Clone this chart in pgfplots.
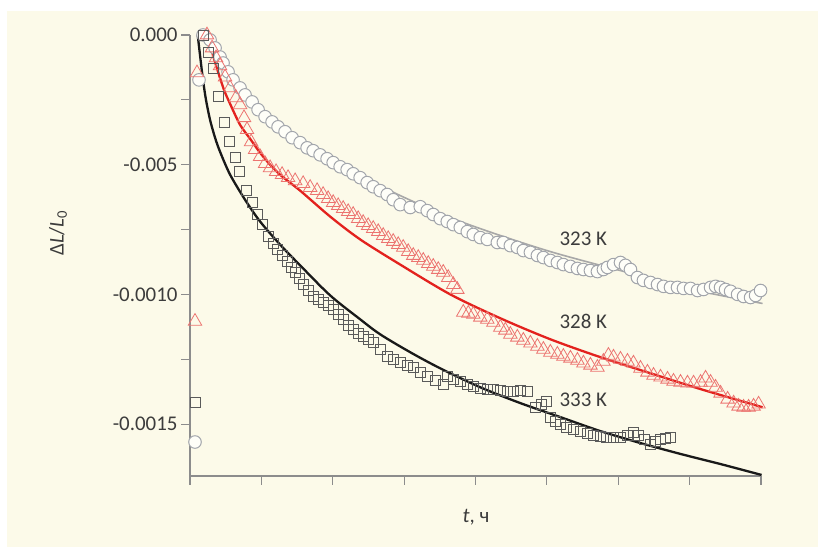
\documentclass[border=0pt]{standalone}
\usepackage{pgfplots}
\pgfplotsset{compat=1.18}
\usepackage{fontspec}
\setmainfont{Carlito}
\definecolor{cream}{HTML}{FCFAE9}
\definecolor{txt}{HTML}{3C3C3C}
\definecolor{axgray}{HTML}{8C8C8C}
\definecolor{circ}{HTML}{A2A5AB}
\definecolor{sq}{HTML}{5A5A5A}
\definecolor{tri}{HTML}{EC7470}
\definecolor{fitred}{HTML}{E3221E}
\definecolor{fitgray}{HTML}{A8A8A8}
\begin{document}
\begin{tikzpicture}[x=1bp,y=1bp]
\useasboundingbox (0,0) rectangle (818,547);
\fill[white] (0,0) rectangle (818,547);
\fill[cream] (7,0) rectangle (818,536);
\begin{axis}[
 at={(190bp,71bp)}, anchor=south west, scale only axis, width=571bp, height=441bp,
 xmin=0, xmax=8, ymin=-0.0017, ymax=0,
 axis x line*=bottom, axis y line*=left,
 axis line style={axgray, line width=1.2bp},
 xtick={0,1,2,3,4,5,6,7,8}, xticklabels={},
 ytick={0,-0.00025,-0.0005,-0.00075,-0.001,-0.00125,-0.0015},
 yticklabels={0.000,,-0.005,,-0.0010,,-0.0015},
 scaled y ticks=false,
 tick align=outside, major tick length=9bp,
 tick style={axgray, line width=1.2bp},
 yticklabel style={font=\fontsize{21}{24}\selectfont, text=txt},
 clip=false,
]
% 323 K fit
\addplot[fitgray, line width=1.6bp, smooth] coordinates {
(0.182,0) (0.351,-0.0577e-3) (0.561,-0.142e-3) (0.842,-0.238e-3) (1.122,-0.319e-3)
(1.543,-0.404e-3) (1.964,-0.477e-3) (2.384,-0.542e-3) (2.945,-0.619e-3) (3.647,-0.704e-3)
(4.348,-0.773e-3) (5.049,-0.835e-3) (5.750,-0.888e-3) (6.452,-0.938e-3) (7.153,-0.988e-3) (8.022,-1.035e-3)};
% 323 K data
\addplot[only marks, mark=*, mark size=6.3bp, mark options={draw=circ, fill=white!70!cream, line width=1bp}] coordinates {
(0.126,-0.173e-3) (0.070,-1.569e-3)
(0.182,0) (0.281,-0.019e-3) (0.351,-0.050e-3) (0.421,-0.085e-3) (0.463,-0.108e-3) (0.533,-0.142e-3) (0.603,-0.173e-3) (0.701,-0.204e-3) (0.771,-0.231e-3) (0.870,-0.258e-3) (0.954,-0.288e-3) (1.052,-0.315e-3) (1.150,-0.335e-3) (1.234,-0.354e-3) (1.332,-0.373e-3) (1.431,-0.396e-3) (1.543,-0.415e-3) (1.641,-0.435e-3) (1.725,-0.446e-3) (1.823,-0.462e-3) (1.921,-0.477e-3) (2.006,-0.492e-3) (2.104,-0.508e-3) (2.202,-0.519e-3) (2.286,-0.535e-3) (2.384,-0.550e-3) (2.482,-0.569e-3) (2.567,-0.585e-3) (2.665,-0.600e-3) (2.763,-0.615e-3) (2.847,-0.635e-3) (2.945,-0.654e-3) (3.086,-0.665e-3) (3.226,-0.662e-3) (3.324,-0.677e-3) (3.408,-0.692e-3) (3.506,-0.708e-3) (3.604,-0.719e-3) (3.689,-0.731e-3) (3.787,-0.742e-3) (3.885,-0.758e-3) (3.969,-0.769e-3) (4.067,-0.781e-3) (4.165,-0.788e-3) (4.306,-0.800e-3) (4.390,-0.800e-3) (4.488,-0.812e-3) (4.586,-0.819e-3) (4.670,-0.831e-3) (4.769,-0.838e-3) (4.867,-0.850e-3) (4.951,-0.858e-3) (5.049,-0.869e-3) (5.147,-0.877e-3) (5.231,-0.885e-3) (5.330,-0.892e-3) (5.428,-0.900e-3) (5.512,-0.904e-3) (5.610,-0.908e-3) (5.708,-0.912e-3) (5.792,-0.904e-3) (5.848,-0.896e-3) (5.933,-0.885e-3) (6.031,-0.877e-3) (6.101,-0.888e-3) (6.171,-0.904e-3) (6.269,-0.935e-3) (6.353,-0.946e-3) (6.452,-0.954e-3) (6.550,-0.962e-3) (6.634,-0.969e-3) (6.732,-0.973e-3) (6.830,-0.973e-3) (6.914,-0.977e-3) (7.013,-0.977e-3) (7.111,-0.985e-3) (7.195,-0.981e-3) (7.293,-0.973e-3) (7.363,-0.969e-3) (7.433,-0.973e-3) (7.503,-0.981e-3) (7.574,-0.988e-3) (7.672,-1.000e-3) (7.756,-1.008e-3) (7.854,-1.012e-3) (7.924,-1.004e-3) (7.994,-0.985e-3)};
% 328 K data
\addplot[only marks, mark=triangle, mark size=7.8bp, mark options={draw=tri, line width=0.8bp}] coordinates {
(0.098,-0.146e-3) (0.070,-1.104e-3)
(0.238,0) (0.309,-0.050e-3) (0.365,-0.088e-3) (0.421,-0.119e-3) (0.491,-0.162e-3) (0.561,-0.204e-3) (0.645,-0.242e-3) (0.701,-0.269e-3) (0.757,-0.319e-3) (0.799,-0.365e-3) (0.856,-0.412e-3) (0.912,-0.442e-3) (0.982,-0.469e-3) (1.052,-0.496e-3) (1.122,-0.512e-3) (1.206,-0.527e-3) (1.290,-0.538e-3) (1.374,-0.550e-3) (1.473,-0.562e-3) (1.585,-0.573e-3) (1.683,-0.588e-3) (1.781,-0.600e-3) (1.865,-0.615e-3) (1.935,-0.631e-3) (2.006,-0.646e-3) (2.076,-0.658e-3) (2.146,-0.669e-3) (2.216,-0.681e-3) (2.286,-0.692e-3) (2.356,-0.708e-3) (2.426,-0.723e-3) (2.496,-0.735e-3) (2.567,-0.746e-3) (2.637,-0.758e-3) (2.707,-0.773e-3) (2.777,-0.785e-3) (2.847,-0.796e-3) (2.917,-0.808e-3) (2.987,-0.819e-3) (3.057,-0.835e-3) (3.128,-0.850e-3) (3.198,-0.858e-3) (3.268,-0.869e-3) (3.338,-0.881e-3) (3.408,-0.892e-3) (3.478,-0.904e-3) (3.548,-0.915e-3) (3.618,-0.935e-3) (3.689,-0.962e-3) (3.745,-0.981e-3) (3.829,-1.069e-3) (3.899,-1.073e-3) (3.969,-1.077e-3) (4.067,-1.088e-3) (4.165,-1.096e-3) (4.250,-1.108e-3) (4.348,-1.127e-3) (4.418,-1.138e-3) (4.488,-1.154e-3) (4.586,-1.165e-3) (4.670,-1.177e-3) (4.769,-1.188e-3) (4.867,-1.200e-3) (4.951,-1.212e-3) (5.049,-1.223e-3) (5.147,-1.231e-3) (5.231,-1.239e-3) (5.330,-1.246e-3) (5.428,-1.254e-3) (5.512,-1.265e-3) (5.610,-1.273e-3) (5.708,-1.281e-3) (5.792,-1.258e-3) (5.862,-1.235e-3) (5.933,-1.242e-3) (6.031,-1.250e-3) (6.129,-1.258e-3) (6.213,-1.265e-3) (6.311,-1.285e-3) (6.409,-1.300e-3) (6.494,-1.312e-3) (6.592,-1.319e-3) (6.690,-1.327e-3) (6.774,-1.335e-3) (6.872,-1.339e-3) (6.970,-1.342e-3) (7.055,-1.342e-3) (7.153,-1.339e-3) (7.223,-1.323e-3) (7.293,-1.339e-3) (7.363,-1.358e-3) (7.433,-1.381e-3) (7.532,-1.404e-3) (7.616,-1.419e-3) (7.686,-1.431e-3) (7.756,-1.435e-3) (7.826,-1.435e-3) (7.896,-1.431e-3) (7.966,-1.423e-3)};
% 333 K data
\addplot[only marks, mark=square, mark size=5bp, mark options={draw=sq, line width=0.8bp}] coordinates {
(0.070,-1.415e-3)
(0.182,0) (0.252,-0.069e-3) (0.323,-0.127e-3) (0.393,-0.238e-3) (0.477,-0.338e-3) (0.547,-0.412e-3) (0.631,-0.473e-3) (0.687,-0.527e-3) (0.785,-0.600e-3) (0.870,-0.646e-3) (0.940,-0.692e-3) (1.010,-0.731e-3) (1.094,-0.777e-3) (1.164,-0.804e-3) (1.220,-0.827e-3) (1.290,-0.850e-3) (1.360,-0.873e-3) (1.417,-0.896e-3) (1.473,-0.915e-3) (1.529,-0.938e-3) (1.585,-0.962e-3) (1.655,-0.985e-3) (1.725,-1.008e-3) (1.795,-1.019e-3) (1.865,-1.031e-3) (1.935,-1.042e-3) (2.006,-1.058e-3) (2.076,-1.077e-3) (2.146,-1.096e-3) (2.216,-1.119e-3) (2.286,-1.135e-3) (2.356,-1.150e-3) (2.426,-1.162e-3) (2.496,-1.173e-3) (2.567,-1.185e-3) (2.665,-1.212e-3) (2.763,-1.239e-3) (2.847,-1.250e-3) (2.945,-1.262e-3) (3.043,-1.273e-3) (3.128,-1.281e-3) (3.226,-1.300e-3) (3.324,-1.315e-3) (3.436,-1.331e-3) (3.548,-1.346e-3) (3.604,-1.315e-3) (3.689,-1.327e-3) (3.787,-1.335e-3) (3.885,-1.346e-3) (3.969,-1.354e-3) (4.067,-1.362e-3) (4.165,-1.365e-3) (4.250,-1.365e-3) (4.348,-1.369e-3) (4.446,-1.373e-3) (4.530,-1.373e-3) (4.628,-1.369e-3) (4.726,-1.373e-3) (4.838,-1.435e-3) (4.923,-1.423e-3) (4.993,-1.412e-3) (5.049,-1.473e-3) (5.119,-1.488e-3) (5.189,-1.500e-3) (5.273,-1.512e-3) (5.372,-1.519e-3) (5.470,-1.527e-3) (5.568,-1.535e-3) (5.652,-1.542e-3) (5.750,-1.546e-3) (5.834,-1.550e-3) (5.933,-1.550e-3) (6.031,-1.550e-3) (6.129,-1.542e-3) (6.213,-1.531e-3) (6.283,-1.542e-3) (6.367,-1.558e-3) (6.452,-1.577e-3) (6.522,-1.565e-3) (6.592,-1.558e-3) (6.662,-1.554e-3) (6.732,-1.550e-3)};
% 328 K fit
\addplot[fitred, line width=2.3bp, smooth] coordinates {
(0.252,0) (0.309,-0.0654e-3) (0.393,-0.142e-3) (0.477,-0.212e-3) (0.561,-0.265e-3) (0.701,-0.346e-3)
(0.842,-0.400e-3) (0.982,-0.454e-3) (1.122,-0.500e-3) (1.276,-0.542e-3) (1.543,-0.600e-3) (1.964,-0.700e-3)
(2.384,-0.788e-3) (2.945,-0.885e-3) (3.647,-1.000e-3) (4.348,-1.092e-3) (5.049,-1.173e-3) (5.750,-1.242e-3)
(6.452,-1.304e-3) (7.153,-1.365e-3) (8.022,-1.435e-3)};
% 333 K fit
\addplot[black!90, line width=2.3bp, smooth] coordinates {
(0.108,0) (0.140,-0.0769e-3) (0.182,-0.173e-3) (0.224,-0.250e-3) (0.281,-0.327e-3) (0.351,-0.396e-3)
(0.421,-0.450e-3) (0.561,-0.538e-3) (0.771,-0.635e-3) (0.982,-0.719e-3) (1.262,-0.808e-3) (1.543,-0.888e-3)
(1.964,-1.004e-3) (2.384,-1.096e-3) (2.665,-1.154e-3) (3.086,-1.223e-3) (3.506,-1.285e-3) (4.067,-1.358e-3)
(4.628,-1.419e-3) (5.189,-1.473e-3) (5.750,-1.527e-3) (6.311,-1.573e-3) (6.872,-1.615e-3) (7.433,-1.654e-3) (8.008,-1.696e-3)};
\node[font=\fontsize{21}{24}\selectfont, text=txt] at (axis cs:5.51,-0.000785) {323 K};
\node[font=\fontsize{21}{24}\selectfont, text=txt] at (axis cs:5.51,-0.001104) {328 K};
\node[font=\fontsize{21}{24}\selectfont, text=txt] at (axis cs:5.51,-0.001408) {333 K};
\end{axis}
\node[rotate=90, font=\fontsize{21}{24}\selectfont, text=txt] at (58,314) {Δ\textit{L}/\textit{L}\textsubscript{0}};
\node[font=\fontsize{21}{24}\selectfont, text=txt] at (476,30) {\textit{t}, ч};
\end{tikzpicture}
\end{document}
